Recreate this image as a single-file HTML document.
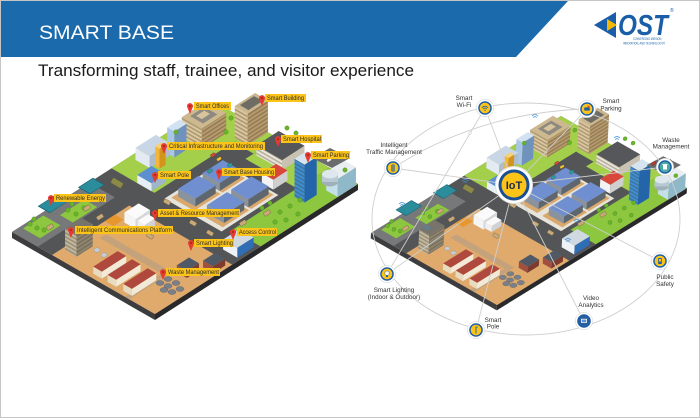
<!DOCTYPE html>
<html><head><meta charset="utf-8">
<style>
html,body{margin:0;padding:0;background:#fff;width:700px;height:418px;overflow:hidden;}
svg{display:block;}
text{font-family:"Liberation Sans",sans-serif;}
</style></head><body>
<svg width="700" height="418" viewBox="0 0 700 418" xmlns="http://www.w3.org/2000/svg">
<defs>
 <pattern id="pv" patternUnits="userSpaceOnUse" width="4" height="1.6"><rect y="0.5" width="4" height="0.7" fill="#4a3c26" fill-opacity="0.35"/></pattern>
 <pattern id="pu" patternUnits="userSpaceOnUse" width="2.3" height="4"><rect x="0.6" width="1" height="4" fill="#4a3c26" fill-opacity="0.35"/></pattern>
 <g id="map">
  <polygon points="12,232 155,314 155,320 12,238" fill="#3d3d3f"/>
  <polygon points="155,314 358,184 358,190 155,320" fill="#29292b"/>
  <g transform="matrix(1.43 0.82 2.03 -1.30 12 232)">
   <rect x="0" y="0" width="100" height="100" fill="#545557"/>
   <rect x="0" y="0" width="18" height="38" fill="#77787a"/>
   <rect x="2" y="4" width="12" height="10" fill="#8dc63f"/>
   <rect x="8" y="18" width="9" height="12" fill="#8dc63f"/>
   <rect x="28" y="0" width="72" height="38" fill="#dfaa6c"/>
   <rect x="36" y="18" width="46" height="3" fill="#c4a27c"/>
   <rect x="79" y="0" width="3" height="20" fill="#c4a27c"/>
   <rect x="28" y="26" width="6" height="5" fill="#e8962e"/>
   <rect x="0" y="49" width="30" height="51" fill="#a3cf4a"/>
   <rect x="30" y="88" width="14" height="12" fill="#a3cf4a"/>
   <rect x="37" y="49" width="40" height="28" fill="#e7e4dc"/>
   <rect x="39" y="51" width="16" height="13" fill="#d9a86c"/>
   <rect x="59" y="51" width="16" height="13" fill="#d9a86c"/>
   <rect x="39" y="65" width="16" height="11" fill="#d9a86c"/>
   <rect x="59" y="65" width="16" height="11" fill="#d9a86c"/>
   <rect x="80" y="52" width="20" height="48" fill="#8dc63f"/>
   <rect x="44" y="84" width="36" height="16" fill="#a3cf4a"/>

   <!-- Offices -->
   <polygon points="8,78 22,78 10.48,86.12 -3.52,86.12" fill="#dcc79e"/>
   <polygon points="8,78 22,78 10.48,86.12 -3.52,86.12" fill="url(#pv)"/>
   <polygon points="22,78 22,90 10.48,98.12 10.48,86.12" fill="#b79b6d"/>
   <polygon points="22,78 22,90 10.48,98.12 10.48,86.12" fill="url(#pu)"/>
   <rect x="-3.52" y="86.12" width="14" height="12" fill="#cdb88f"/>
   <rect x="-1" y="88.5" width="9" height="7" fill="#8f8a80"/>
   <rect x="1" y="90" width="4" height="4" fill="#d7c49c"/>
   <!-- Smart Building -->
   <polygon points="28,90 37,90 18.57,102.99 9.57,102.99" fill="#dcc79e"/>
   <polygon points="28,90 37,90 18.57,102.99 9.57,102.99" fill="url(#pv)"/>
   <polygon points="37,90 37,100 18.57,112.99 18.57,102.99" fill="#b79b6d"/>
   <polygon points="37,90 37,100 18.57,112.99 18.57,102.99" fill="url(#pu)"/>
   <rect x="9.57" y="102.99" width="9" height="10" fill="#c9b68e"/>
   <rect x="11" y="104.5" width="6" height="7" fill="#6f6c66"/>
   <!-- Crit b -->
   <polygon points="12,68 17,68 2.02,78.56 -2.98,78.56" fill="#a9c6e6"/>
   <polygon points="17,68 17,74 2.02,84.56 2.02,78.56" fill="#6f93bd"/>
   <rect x="-2.98" y="78.56" width="5" height="6" fill="#d3e2f2"/>
   <!-- Crit a -->
   <polygon points="4,58 14,58 7.09,62.87 -2.91,62.87" fill="#e4eaf1"/>
   <polygon points="14,58 14,68 7.09,72.87 7.09,62.87" fill="#aebccb"/>
   <rect x="-2.91" y="62.87" width="10" height="10" fill="#c8d6e5"/>
   <!-- Crit c yellow -->
   <polygon points="15,60 18,60 6.48,68.12 3.48,68.12" fill="#f3b63a"/>
   <polygon points="18,60 18,63 6.48,71.12 6.48,68.12" fill="#d3941c"/>
   <rect x="3.48" y="68.12" width="3" height="3" fill="#f7d070"/>
   <!-- Hospital -->
   <polygon points="46,88 64,88 58.24,92.06 40.24,92.06" fill="#ebe6da"/>
   <polygon points="46,88 64,88 58.24,92.06 40.24,92.06" fill="url(#pv)"/>
   <polygon points="64,88 64,99 58.24,103.06 58.24,92.06" fill="#c9c2b3"/>
   <rect x="40.24" y="92.06" width="18" height="11" fill="#56575a"/>
   <!-- Smart pole facility -->
   <polygon points="18,49 28,49 23.39,52.25 13.39,52.25" fill="#e6eef6"/>
   <polygon points="28,49 28,56 23.39,59.25 23.39,52.25" fill="#9fb5cc"/>
   <rect x="13.39" y="52.25" width="10" height="7" fill="#5b8fd0"/>
   <!-- Canopies -->
   <rect x="-1.18" y="33.65" width="8" height="7" fill="#2b8c9c" stroke="#1d6775" stroke-width="0.4"/>
   <!-- Warehouse c -->
   <polygon points="41,65 53,65 48.39,68.25 36.39,68.25" fill="#8a939c"/>
   <polygon points="53,65 53,75 48.39,78.25 48.39,68.25" fill="#5e6770"/>
   <rect x="36.39" y="68.25" width="12" height="10" fill="#6f8fd0"/>
   <rect x="-5.18" y="16.65" width="8" height="8" fill="#2b8c9c" stroke="#1d6775" stroke-width="0.4"/>
   <!-- Red bldg -->
   <polygon points="64,78 72,78 66.24,82.06 58.24,82.06" fill="#f2f2f2"/>
   <polygon points="72,78 72,85 66.24,89.06 66.24,82.06" fill="#cfcfcf"/>
   <rect x="58.24" y="82.06" width="8" height="7" fill="#d9463b"/>
   <!-- Warehouse a -->
   <polygon points="41,53 53,53 48.39,56.25 36.39,56.25" fill="#8a939c"/>
   <polygon points="53,53 53,63 48.39,66.25 48.39,56.25" fill="#5e6770"/>
   <rect x="36.39" y="56.25" width="12" height="10" fill="#6f8fd0"/>
   <!-- Warehouse d -->
   <polygon points="61,65 73,65 68.39,68.25 56.39,68.25" fill="#8a939c"/>
   <polygon points="73,65 73,75 68.39,78.25 68.39,68.25" fill="#5e6770"/>
   <rect x="56.39" y="68.25" width="12" height="10" fill="#6f8fd0"/>
   <!-- Teal -->
   <polygon points="92,90 100,90 89.63,97.31 81.63,97.31" fill="#c5dfe8"/>
   <polygon points="100,90 100,99 89.63,106.31 89.63,97.31" fill="#8fb8c8"/>
   <rect x="81.63" y="97.31" width="8" height="9" fill="#e8eef2"/>
   <!-- Tower -->
   <polygon points="84,80 91,80 69.11,95.43 62.11,95.43" fill="#3d8fd6"/>
   <polygon points="84,80 91,80 69.11,95.43 62.11,95.43" fill="url(#pv)"/>
   <polygon points="91,80 91,86 69.11,101.43 69.11,95.43" fill="#2464a8"/>
   <rect x="62.11" y="95.43" width="7" height="6" fill="#d6e4f0"/>
   <!-- White asset -->
   <polygon points="36,30 44,30 38.24,34.06 30.24,34.06" fill="#f5f5f5"/>
   <polygon points="44,30 44,37 38.24,41.06 38.24,34.06" fill="#d5d8dc"/>
   <rect x="30.24" y="34.06" width="8" height="7" fill="#fbfbfb"/>
   <polygon points="44,31 49,31 44.97,33.84 39.97,33.84" fill="#f0f0f0"/>
   <polygon points="49,31 49,36 44.97,38.84 44.97,33.84" fill="#cfd3d8"/>
   <rect x="39.97" y="33.84" width="5" height="5" fill="#fafafa"/>
   <!-- Warehouse b -->
   <polygon points="61,53 73,53 68.39,56.25 56.39,56.25" fill="#8a939c"/>
   <polygon points="73,53 73,63 68.39,66.25 68.39,56.25" fill="#5e6770"/>
   <rect x="56.39" y="56.25" width="12" height="10" fill="#6f8fd0"/>
   <!-- Comms -->
   <polygon points="30,5 38,5 25.33,13.93 17.33,13.93" fill="#c2b89f"/>
   <polygon points="30,5 38,5 25.33,13.93 17.33,13.93" fill="url(#pv)"/>
   <polygon points="38,5 38,13 25.33,21.93 25.33,13.93" fill="#8f8672"/>
   <polygon points="38,5 38,13 25.33,21.93 25.33,13.93" fill="url(#pu)"/>
   <rect x="17.33" y="13.93" width="8" height="8" fill="#77746c"/>
   <!-- Access -->
   <polygon points="88,42 98,42 92.24,46.06 82.24,46.06" fill="#eef2f6"/>
   <polygon points="98,42 98,50 92.24,54.06 92.24,46.06" fill="#2f6db5"/>
   <rect x="82.24" y="46.06" width="10" height="8" fill="#d0d8e0"/>
   <!-- Barracks -->
   <polygon points="54,2 60,2 55.97,4.84 49.97,4.84" fill="#e8dcc0"/>
   <polygon points="60,2 60,14 55.97,16.84 55.97,4.84" fill="#f2ead6"/>
   <rect x="49.97" y="4.84" width="6" height="12" fill="#b0493d"/>
   <polygon points="64,2 70,2 65.97,4.84 59.97,4.84" fill="#e8dcc0"/>
   <polygon points="70,2 70,14 65.97,16.84 65.97,4.84" fill="#f2ead6"/>
   <rect x="59.97" y="4.84" width="6" height="12" fill="#b0493d"/>
   <!-- Containers -->
   <polygon points="91,30 98,30 93.97,32.84 86.97,32.84" fill="#a14f3f"/>
   <polygon points="98,30 98,36 93.97,38.84 93.97,32.84" fill="#7d3a2e"/>
   <rect x="86.97" y="32.84" width="7" height="6" fill="#4f5a66"/>
   <polygon points="84,22 91,22 86.97,24.84 79.97,24.84" fill="#a14f3f"/>
   <polygon points="91,22 91,28 86.97,30.84 86.97,24.84" fill="#7d3a2e"/>
   <rect x="79.97" y="24.84" width="7" height="6" fill="#4f5a66"/>
   <polygon points="75,2 81,2 76.97,4.84 70.97,4.84" fill="#e8dcc0"/>
   <polygon points="81,2 81,14 76.97,16.84 76.97,4.84" fill="#f2ead6"/>
   <rect x="70.97" y="4.84" width="6" height="12" fill="#b0493d"/>
  </g>
  <!-- screen-space details -->
  <polygon points="312,158 330,148 350,158 332,168" fill="#6b6c6e"/>
  <ellipse cx="330" cy="182" rx="8" ry="4.5" fill="#9fb0bb"/>
  <rect x="322" y="174" width="16" height="8" fill="#b8c9d3"/>
  <ellipse cx="330" cy="174" rx="8" ry="4.5" fill="#dde7ec"/>
  <g fill="#7b7f88" stroke="#5d6068" stroke-width="0.4">
   <ellipse cx="160" cy="283" rx="4" ry="2.5"/><ellipse cx="168" cy="286" rx="4" ry="2.5"/>
   <ellipse cx="176" cy="283" rx="4" ry="2.5"/><ellipse cx="164" cy="290" rx="4" ry="2.5"/>
   <ellipse cx="172" cy="292" rx="4" ry="2.5"/><ellipse cx="168" cy="279" rx="4" ry="2.5"/>
   <ellipse cx="180" cy="289" rx="4" ry="2.5"/>
  </g>
  <g fill="#c7ccd2" stroke="#8a9099" stroke-width="0.4">
   <ellipse cx="97" cy="250" rx="3" ry="2.2"/><ellipse cx="104" cy="255" rx="3" ry="2.2"/>
  </g>
  <g fill="#6ab42d" stroke="#4b8a1c" stroke-width="0.4">
   <circle cx="30" cy="224" r="2.2"/><circle cx="37" cy="228" r="2.2"/><circle cx="44" cy="230" r="2.2"/>
   <circle cx="34" cy="219" r="2.2"/><circle cx="68" cy="210" r="2.2"/><circle cx="76" cy="214" r="2.2"/>
   <circle cx="84" cy="208" r="2.2"/><circle cx="72" cy="204" r="2.2"/>
   <circle cx="262" cy="208" r="2.2"/><circle cx="270" cy="203" r="2.2"/><circle cx="280" cy="212" r="2.2"/>
   <circle cx="290" cy="206" r="2.2"/><circle cx="298" cy="214" r="2.2"/><circle cx="275" cy="222" r="2.2"/>
   <circle cx="286" cy="220" r="2.2"/><circle cx="300" cy="200" r="2.2"/>
   <circle cx="176" cy="132" r="2.2"/><circle cx="231" cy="118" r="2.2"/><circle cx="226" cy="132" r="2.2"/>
   <circle cx="287" cy="128" r="2.2"/><circle cx="296" cy="133" r="2.2"/><circle cx="345" cy="170" r="2.2"/>
  </g>
  <g fill="#c9a978" stroke="#6b5a3e" stroke-width="0.4">
   <rect x="-3.5" y="-2" width="7" height="4" rx="1" transform="translate(100,217) rotate(-32)"/>
   <rect x="-3.5" y="-2" width="7" height="4" rx="1" transform="translate(87,208) rotate(-32)"/>
   <rect x="-3.5" y="-2" width="7" height="4" rx="1" transform="translate(50,227) rotate(-32)"/>
   <rect x="-3.5" y="-2" width="7" height="4" rx="1" transform="translate(193,223) rotate(30)"/>
   <rect x="-3.5" y="-2" width="7" height="4" rx="1" transform="translate(210,233) rotate(30)"/>
   <rect x="-3.5" y="-2" width="7" height="4" rx="1" transform="translate(267,213) rotate(-32)"/>
   <rect x="-3.5" y="-2" width="7" height="4" rx="1" transform="translate(243,223) rotate(-32)"/>
   <rect x="-3.5" y="-2" width="7" height="4" rx="1" transform="translate(167,202) rotate(30)"/>
   <rect x="-3.5" y="-2" width="7" height="4" rx="1" transform="translate(150,236) rotate(30)"/>
  </g>
  <rect x="-6" y="-3" width="12" height="6" rx="1" fill="#8b8a4a" stroke="#5a5a2c" stroke-width="0.4" transform="translate(117,183) rotate(30)"/>
  <g stroke="#333" stroke-width="0.3">
   <rect x="-2.5" y="-1.5" width="5" height="3" rx="0.8" fill="#d9463b" transform="translate(213,155) rotate(-32)"/>
   <rect x="-2.5" y="-1.5" width="5" height="3" rx="0.8" fill="#f2c230" transform="translate(219,159) rotate(-32)"/>
   <rect x="-2.5" y="-1.5" width="5" height="3" rx="0.8" fill="#2aa198" transform="translate(230,165) rotate(-32)"/>
   <rect x="-2.5" y="-1.5" width="5" height="3" rx="0.8" fill="#2aa198" transform="translate(210,171) rotate(-32)"/>
   <rect x="-2.5" y="-1.5" width="5" height="3" rx="0.8" fill="#c0392b" transform="translate(320,156) rotate(-32)"/>
   <rect x="-2.5" y="-1.5" width="5" height="3" rx="0.8" fill="#eeeeee" transform="translate(329,160) rotate(-32)"/>
   <rect x="-2.5" y="-1.5" width="5" height="3" rx="0.8" fill="#555555" transform="translate(337,154) rotate(-32)"/>
  </g>
 </g>
 <path id="pin" d="M0,8 L-2.7,1.4 A3,3 0 1 1 2.7,1.4 Z"/>
</defs>

<!-- border -->
<rect x="0.5" y="0.5" width="699" height="417" fill="#fff" stroke="#c6c6c6" stroke-width="1"/>
<!-- header -->
<polygon points="1,1 568,1 516,57 1,57" fill="#1b6aac"/>
<text x="39" y="39" font-size="19.5" fill="#fff" textLength="135" lengthAdjust="spacingAndGlyphs">SMART BASE</text>
<text x="38" y="76" font-size="16.5" fill="#1a1a1a" textLength="376" lengthAdjust="spacingAndGlyphs">Transforming staff, trainee, and visitor experience</text>

<!-- logo -->
<polygon points="594,25 616,12 616,38" fill="#1b5ea8"/>
<polygon points="607,19 617,25 607,31" fill="#f5b800"/>
<text x="618" y="35" font-size="29" font-weight="bold" font-style="italic" fill="#1b5ea8" textLength="50" lengthAdjust="spacingAndGlyphs">OST</text>
<text x="670" y="12" font-size="5" fill="#1b5ea8">®</text>
<text x="633" y="40" font-size="3.4" fill="#1b5ea8" textLength="29" lengthAdjust="spacingAndGlyphs">CONVERGING MISSION,</text>
<text x="623" y="44.5" font-size="3.4" fill="#1b5ea8" textLength="42" lengthAdjust="spacingAndGlyphs">INNOVATION, AND TECHNOLOGY®</text>

<!-- maps -->
<use href="#map"/>
<use href="#map" transform="matrix(0.907 -0.0066 -0.0452 0.8897 370.6 26.7)"/>

<!-- left labels -->
<g font-size="6" fill="#2b2b2b">
 <rect x="194" y="102" width="37" height="8" fill="#fcc419"/><text x="196" y="108.2" textLength="33" lengthAdjust="spacingAndGlyphs">Smart Offices</text>
 <rect x="265" y="94" width="41" height="8" fill="#fcc419"/><text x="267" y="100.2" textLength="37" lengthAdjust="spacingAndGlyphs">Smart Building</text>
 <rect x="167" y="142" width="98" height="8" fill="#fcc419"/><text x="169" y="148.2" textLength="94" lengthAdjust="spacingAndGlyphs">Critical Infrastructure and Monitoring</text>
 <rect x="281" y="135" width="41" height="8" fill="#fcc419"/><text x="283" y="141.2" textLength="38" lengthAdjust="spacingAndGlyphs">Smart Hospital</text>
 <rect x="311" y="151" width="39" height="8" fill="#fcc419"/><text x="313" y="157.2" textLength="36" lengthAdjust="spacingAndGlyphs">Smart Parking</text>
 <rect x="158" y="171" width="33" height="8" fill="#fcc419"/><text x="160" y="177.2" textLength="29" lengthAdjust="spacingAndGlyphs">Smart Pole</text>
 <rect x="222" y="168" width="53" height="8" fill="#fcc419"/><text x="224" y="174.2" textLength="50" lengthAdjust="spacingAndGlyphs">Smart Base Housing</text>
 <rect x="54" y="194" width="52" height="8" fill="#fcc419"/><text x="56" y="200.2" textLength="49" lengthAdjust="spacingAndGlyphs">Renewable Energy</text>
 <rect x="158" y="209" width="82" height="8" fill="#fcc419"/><text x="160" y="215.2" textLength="79" lengthAdjust="spacingAndGlyphs">Asset &amp; Resource Management</text>
 <rect x="75" y="226" width="98" height="8" fill="#fcc419"/><text x="77" y="232.2" textLength="95" lengthAdjust="spacingAndGlyphs">Intelligent Communications Platform</text>
 <rect x="237" y="228" width="40" height="8" fill="#fcc419"/><text x="239" y="234.2" textLength="37" lengthAdjust="spacingAndGlyphs">Access Control</text>
 <rect x="194" y="239" width="40" height="8" fill="#fcc419"/><text x="196" y="245.2" textLength="37" lengthAdjust="spacingAndGlyphs">Smart Lighting</text>
 <rect x="166" y="268" width="54" height="8" fill="#fcc419"/><text x="168" y="274.2" textLength="51" lengthAdjust="spacingAndGlyphs">Waste Management</text>
</g>
<g fill="#e53a2f">
 <use href="#pin" x="190" y="106"/><use href="#pin" x="262" y="98"/><use href="#pin" x="164" y="146"/>
 <use href="#pin" x="278" y="139"/><use href="#pin" x="308" y="155"/><use href="#pin" x="155" y="175"/>
 <use href="#pin" x="219" y="172"/><use href="#pin" x="51" y="198"/><use href="#pin" x="155" y="213"/>
 <use href="#pin" x="71" y="230"/><use href="#pin" x="233" y="232"/><use href="#pin" x="191" y="243"/>
 <use href="#pin" x="163" y="272"/>
</g>
<g fill="#a8231b">
 <circle cx="190" cy="106" r="1"/><circle cx="262" cy="98" r="1"/><circle cx="164" cy="146" r="1"/>
 <circle cx="278" cy="139" r="1"/><circle cx="308" cy="155" r="1"/><circle cx="155" cy="175" r="1"/>
 <circle cx="219" cy="172" r="1"/><circle cx="51" cy="198" r="1"/><circle cx="155" cy="213" r="1"/>
 <circle cx="71" cy="230" r="1"/><circle cx="233" cy="232" r="1"/><circle cx="191" cy="243" r="1"/>
 <circle cx="163" cy="272" r="1"/>
</g>

<!-- right: wifi markers on map -->
<g stroke="#3b8fd8" fill="none" stroke-width="0.8">
 <path d="M532,116 Q535,113 538,116 M533.2,117.5 Q535,115.8 536.8,117.5"/>
 <path d="M614,138 Q617,135 620,138 M615.2,139.5 Q617,137.8 618.8,139.5"/>
 <path d="M462,181 Q465,178 468,181 M463.2,182.5 Q465,180.8 466.8,182.5"/>
 <path d="M399,204 Q402,201 405,204 M400.2,205.5 Q402,203.8 403.8,205.5"/>
 <path d="M424,228 Q427,225 430,228 M425.2,229.5 Q427,227.8 428.8,229.5"/>
 <path d="M574,221 Q577,218 580,221 M575.2,222.5 Q577,220.8 578.8,222.5"/>
 <path d="M565,240 Q568,237 571,240 M566.2,241.5 Q568,239.8 569.8,241.5"/>
</g>

<!-- ring and connectors -->
<g fill="none" stroke="#cfcfcf" stroke-width="0.9">
 <ellipse cx="526" cy="219" rx="154" ry="116"/>
 <path d="M393,168 Q480,112 587,109"/>
 <line x1="514" y1="185" x2="485" y2="108"/>
 <line x1="514" y1="185" x2="587" y2="109"/>
 <line x1="514" y1="185" x2="393" y2="168"/>
 <line x1="514" y1="185" x2="665" y2="167"/>
 <line x1="514" y1="185" x2="387" y2="274"/>
 <line x1="514" y1="185" x2="476" y2="330"/>
 <line x1="514" y1="185" x2="584" y2="321"/>
 <line x1="514" y1="185" x2="660" y2="261"/>
 <line x1="485" y1="108" x2="387" y2="274"/>
</g>
<circle cx="470" cy="133" r="1.3" fill="#fff" stroke="#bbb" stroke-width="0.5"/>

<!-- icons -->
<g>
 <g transform="translate(485,108)"><circle r="8.6" fill="#fff" stroke="#d9d9d9" stroke-width="0.6"/><circle r="6.8" fill="#1f5fa8"/><circle r="5.3" fill="#fcc419"/>
  <path d="M-3,-0.3 Q0,-3.3 3,-0.3 M-1.9,1 Q0,-1 1.9,1" fill="none" stroke="#1f5fa8" stroke-width="0.8"/><circle cy="2.3" r="0.7" fill="#1f5fa8"/></g>
 <g transform="translate(587,109)"><circle r="8.6" fill="#fff" stroke="#d9d9d9" stroke-width="0.6"/><circle r="6.8" fill="#1f5fa8"/><circle r="5.3" fill="#fcc419"/>
  <rect x="-2.8" y="-1.6" width="5.6" height="3.2" rx="0.8" fill="#1f5fa8"/><rect x="0.5" y="-3.3" width="2" height="2" fill="#d9463b"/></g>
 <g transform="translate(393,168)"><circle r="8.6" fill="#fff" stroke="#d9d9d9" stroke-width="0.6"/><circle r="6.8" fill="#1f5fa8"/><circle r="5.3" fill="#fcc419"/>
  <rect x="-1.6" y="-3.5" width="3.2" height="7" rx="0.8" fill="#1f5fa8"/><circle cy="-2" r="0.7" fill="#fcc419"/><circle r="0.7" fill="#fcc419"/><circle cy="2" r="0.7" fill="#fcc419"/></g>
 <g transform="translate(665,167)"><circle r="8.6" fill="#fff" stroke="#d9d9d9" stroke-width="0.6"/><circle r="6.8" fill="#1f5fa8"/><circle r="5.3" fill="#4aa9a0"/>
  <rect x="-2" y="-2" width="4" height="4.5" fill="#fff"/><rect x="-2.6" y="-3" width="5.2" height="0.9" fill="#fff"/></g>
 <g transform="translate(387,274)"><circle r="8.6" fill="#fff" stroke="#d9d9d9" stroke-width="0.6"/><circle r="6.8" fill="#1f5fa8"/><circle r="5.3" fill="#fcc419"/>
  <circle cy="-0.8" r="2.2" fill="#fff" stroke="#1f5fa8" stroke-width="0.5"/><rect x="-1" y="1.5" width="2" height="1.6" fill="#1f5fa8"/></g>
 <g transform="translate(476,330)"><circle r="8.6" fill="#fff" stroke="#d9d9d9" stroke-width="0.6"/><circle r="6.8" fill="#1f5fa8"/><circle r="5.3" fill="#fcc419"/>
  <line x1="0" y1="-3.5" x2="0" y2="3.5" stroke="#1f5fa8" stroke-width="0.9"/><line x1="0" y1="-3" x2="2" y2="-3" stroke="#1f5fa8" stroke-width="0.7"/></g>
 <g transform="translate(584,321)"><circle r="8.6" fill="#fff" stroke="#d9d9d9" stroke-width="0.6"/><circle r="6.8" fill="#1f5fa8"/><circle r="5.3" fill="#2a5d9c"/>
  <rect x="-3" y="-2.2" width="6" height="4" fill="#fff"/><rect x="-2.3" y="-1.5" width="4.6" height="2.6" fill="#5b8fd0"/></g>
 <g transform="translate(660,261)"><circle r="8.6" fill="#fff" stroke="#d9d9d9" stroke-width="0.6"/><circle r="6.8" fill="#1f5fa8"/><circle r="5.3" fill="#fcc419"/>
  <rect x="-1.8" y="-3" width="3.6" height="6" rx="0.5" fill="#1f5fa8"/><rect x="-1" y="-2" width="2" height="2.5" fill="#fcc419"/></g>
</g>

<!-- IoT -->
<circle cx="514" cy="185" r="19" fill="#e2e2e2"/>
<circle cx="514" cy="185" r="18" fill="#fff"/>
<circle cx="514" cy="185" r="15.5" fill="#1b4f91"/>
<circle cx="514" cy="185" r="12.5" fill="#fcc419"/>
<text x="514" y="189" font-size="11" font-weight="bold" fill="#1a2a4a" text-anchor="middle">IoT</text>

<!-- right labels -->
<g font-size="6.3" fill="#333" text-anchor="middle">
 <text x="464" y="100">Smart</text><text x="464" y="107">Wi-Fi</text>
 <text x="611" y="103">Smart</text><text x="611" y="110.5">Parking</text>
 <text x="394" y="147">Intelligent</text><text x="394" y="154">Traffic Management</text>
 <text x="671" y="142">Waste</text><text x="671" y="148.5">Management</text>
 <text x="394" y="292">Smart Lighting</text><text x="394" y="299">(Indoor &amp; Outdoor)</text>
 <text x="493" y="322">Smart</text><text x="493" y="328.5">Pole</text>
 <text x="591" y="300">Video</text><text x="591" y="307">Analytics</text>
 <text x="665" y="279">Public</text><text x="665" y="286">Safety</text>
</g>
</svg>
</body></html>
